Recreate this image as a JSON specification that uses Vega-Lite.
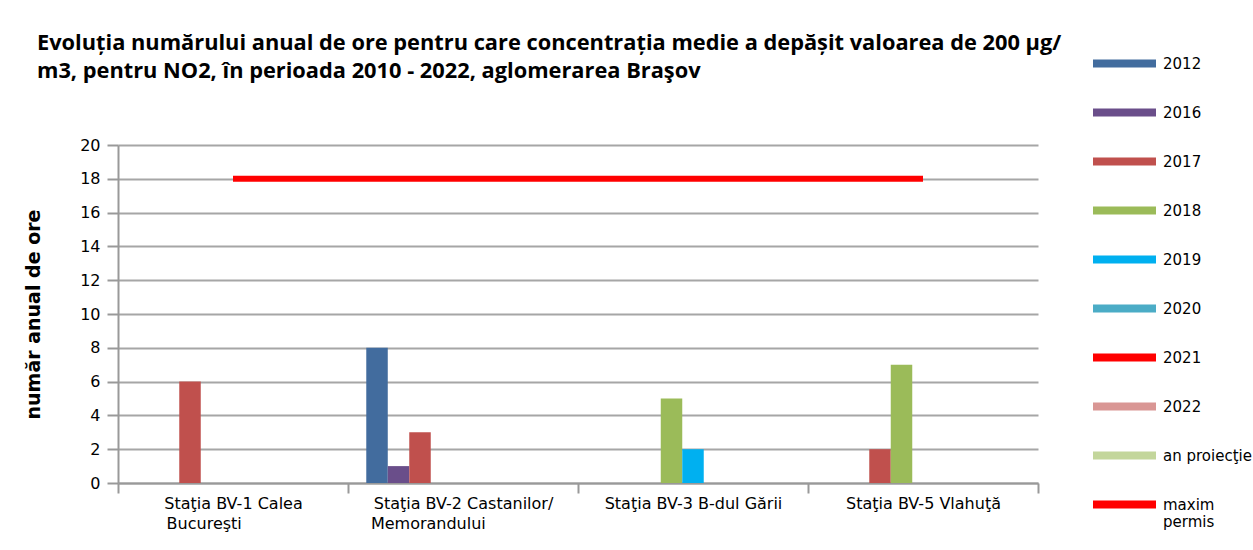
{
  "$schema": "https://vega.github.io/schema/vega-lite/v6.json",
  "width": 920,
  "height": 338,
  "autosize": {"type": "none"},
  "padding": {"left": 118, "top": 145, "right": 215, "bottom": 67},
  "background": "white",
  "config": {"view": {"stroke": null}, "font": "DejaVu Sans"},
  "title": {
    "text": ["Evoluția numărului anual de ore pentru care concentrația medie a depășit valoarea de 200 µg/", "m3, pentru NO2, în perioada 2010 - 2022, aglomerarea Braşov"],
    "anchor": "start",
    "frame": "group",
    "dx": -81,
    "dy": 51,
    "fontSize": 21.8,
    "fontWeight": "bold",
    "font": "Open Sans",
    "color": "black",
    "lineHeight": 28,
    "offset": 0
  },
  "data": {
    "values": [
      {"statie": "Staţia BV-1 Calea Bucureşti", "serie": "2017", "valoare": 6},
      {"statie": "Staţia BV-2 Castanilor/Memorandului", "serie": "2012", "valoare": 8},
      {"statie": "Staţia BV-2 Castanilor/Memorandului", "serie": "2016", "valoare": 1},
      {"statie": "Staţia BV-2 Castanilor/Memorandului", "serie": "2017", "valoare": 3},
      {"statie": "Staţia BV-3 B-dul Gării", "serie": "2018", "valoare": 5},
      {"statie": "Staţia BV-3 B-dul Gării", "serie": "2019", "valoare": 2},
      {"statie": "Staţia BV-5 Vlahuţă", "serie": "2017", "valoare": 2},
      {"statie": "Staţia BV-5 Vlahuţă", "serie": "2018", "valoare": 7},
      {"statie": "Staţia BV-1 Calea Bucureşti", "serie": "maxim permis", "valoare": 18},
      {"statie": "Staţia BV-2 Castanilor/Memorandului", "serie": "maxim permis", "valoare": 18},
      {"statie": "Staţia BV-3 B-dul Gării", "serie": "maxim permis", "valoare": 18},
      {"statie": "Staţia BV-5 Vlahuţă", "serie": "maxim permis", "valoare": 18}
    ]
  },
  "encoding": {
    "x": {
      "field": "statie",
      "type": "nominal",
      "sort": null,
      "scale": {
        "type": "band",
        "domain": ["Staţia BV-1 Calea Bucureşti", "Staţia BV-2 Castanilor/Memorandului", "Staţia BV-3 B-dul Gării", "Staţia BV-5 Vlahuţă"],
        "paddingInner": 0,
        "paddingOuter": 0
      },
      "axis": {
        "title": null,
        "labelAngle": 0,
        "tickBand": "extent",
        "tickSize": 10,
        "tickColor": "#999999",
        "tickWidth": 2,
        "domainColor": "#999999",
        "domainWidth": 2,
        "labelFontSize": 16,
        "labelColor": "black",
        "labelPadding": 2,
        "labelBaseline": "top",
        "labelLineHeight": 20,
        "labelLimit": 400,
        "labelExpr": "datum.value == 'Staţia BV-1 Calea Bucureşti' ? ['Staţia BV-1 Calea', 'Bucureşti\u2800\u2800\u2800\u2800\u2800'] : datum.value == 'Staţia BV-2 Castanilor/Memorandului' ? ['Staţia BV-2 Castanilor/', 'Memorandului\u2800\u2800\u2800\u2800\u2800\u2800'] : datum.label"
      }
    },
    "y": {
      "field": "valoare",
      "type": "quantitative",
      "scale": {"domain": [0, 20], "nice": false},
      "axis": {
        "title": "număr anual de ore",
        "values": [0, 2, 4, 6, 8, 10, 12, 14, 16, 18, 20],
        "grid": true,
        "gridColor": "#a6a6a6",
        "gridWidth": 2,
        "tickSize": 11,
        "tickColor": "#999999",
        "tickWidth": 2,
        "domainColor": "#999999",
        "domainWidth": 2,
        "labelFontSize": 16,
        "labelColor": "black",
        "labelPadding": 7,
        "titleFontSize": 19,
        "titleFontWeight": "bold",
        "titleColor": "black",
        "titleX": -85,
        "titleY": 169,
        "titleAlign": "center",
        "titleBaseline": "middle",
        "titleAngle": 270
      }
    },
    "color": {
      "field": "serie",
      "type": "nominal",
      "scale": {
        "domain": ["2012", "2016", "2017", "2018", "2019", "2020", "2021", "2022", "an proiecţie", "maxim permis"],
        "range": ["#426C9E", "#6A4E8A", "#C0504D", "#9BBB59", "#00B0F0", "#4BACC6", "#FF0000", "#D99694", "#C3D69B", "#FF0000"]
      },
      "legend": {
        "orient": "none",
        "legendX": 975,
        "legendY": -113,
        "title": null,
        "symbolType": "M-1,-0.127L1,-0.127L1,0.127L-1,0.127Z",
        "symbolSize": 3969,
        "symbolStrokeWidth": 0,
        "symbolOpacity": 1,
        "labelFontSize": 15,
        "labelColor": "black",
        "labelOffset": 7,
        "rowPadding": 9,
        "labelExpr": "datum.label == 'maxim permis' ? ['maxim', 'permis'] : datum.label"
      }
    }
  },
  "layer": [
    {
      "transform": [{"filter": "datum.serie != 'maxim permis'"}],
      "mark": {"type": "bar"},
      "encoding": {
        "xOffset": {
          "field": "serie",
          "type": "nominal",
          "scale": {
            "domain": ["2012", "2016", "2017", "2018", "2019", "2020", "2021", "2022", "an proiecţie"],
            "paddingInner": 0,
            "paddingOuter": 0.85
          }
        }
      }
    },
    {
      "transform": [{"filter": "datum.serie == 'maxim permis'"}],
      "mark": {"type": "line", "strokeWidth": 6},
      "encoding": {}
    }
  ]
}
